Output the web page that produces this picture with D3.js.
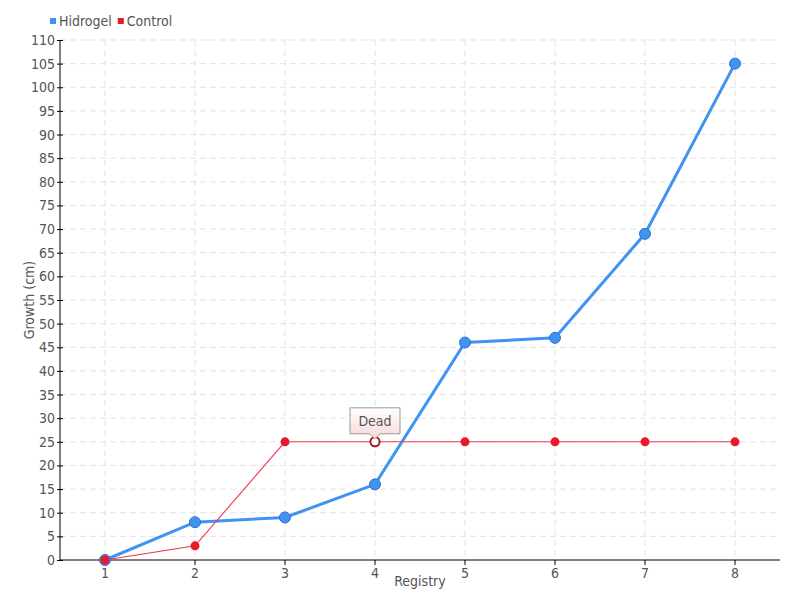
<!DOCTYPE html>
<html><head><meta charset="utf-8">
<script src="https://cdn.jsdelivr.net/npm/d3@7"></script>
<style>
body{margin:0;background:#fff;}
text{font-family:"DejaVu Sans Condensed","Liberation Sans Narrow",sans-serif;fill:#555;}
</style></head>
<body>
<svg id="chart" width="800" height="600"></svg>
<script>
const categories = ["1","2","3","4","5","6","7","8"];
const hidrogel = [0, 8, 9, 16, 46, 47, 69, 105];
const control = [0, 3, 25, 25, 25, 25, 25, 25];
const yTicks = d3.range(0, 111, 5);
const seriesNames = ["Hidrogel", "Control"];
const annotation = {index: 3, text: "Dead"};

const svg = d3.select("#chart");
const m = {l:60, r:20, t:40, b:40};
const W = 800, H = 600;
const x = d3.scaleBand().domain(categories).range([m.l, W - m.r]);
const cx = d => x(d) + x.bandwidth()/2;
const y = d3.scaleLinear().domain([0, 110]).range([H - m.b, m.t]);

// grid
const g = svg.append("g");
g.selectAll("line.h").data(yTicks.filter(v=>v>0)).join("line")
 .attr("x1", m.l).attr("x2", W - m.r).attr("y1", d=>y(d)).attr("y2", d=>y(d))
 .attr("stroke", "#e3e3e3").attr("stroke-dasharray", "6,4");
g.selectAll("line.v").data(categories).join("line")
 .attr("x1", d=>cx(d)).attr("x2", d=>cx(d)).attr("y1", m.t).attr("y2", H - m.b)
 .attr("stroke", "#e3e3e3").attr("stroke-dasharray", "6,4");

// axes
const yAx = svg.append("g").attr("transform", `translate(${m.l},0)`)
 .call(d3.axisLeft(y).tickValues(yTicks).tickSize(3).tickPadding(4));
yAx.selectAll(".tick line").attr("x2", 3).attr("x1", -3).attr("stroke", "#000");
yAx.select(".domain").attr("d", `M0,${m.t}V${H-m.b}`).attr("stroke", "#000");
yAx.selectAll("text").attr("font-size", 14).attr("x", -5);

const xAx = svg.append("g").attr("transform", `translate(0,${H - m.b})`)
 .call(d3.axisBottom(x).tickSize(5).tickPadding(3));
xAx.select(".domain").attr("d", `M${m.l},0H${W-m.r}`).attr("stroke", "#000");
xAx.selectAll(".tick line").attr("stroke", "#000");
xAx.selectAll("text").attr("font-size", 14);
svg.selectAll(".tick text").style("font-family", "'DejaVu Sans Condensed','Liberation Sans Narrow',sans-serif").attr("fill", "#555");

// axis titles
svg.append("text").attr("x", (m.l + W - m.r)/2).attr("y", 586).attr("text-anchor", "middle")
 .attr("font-size", 14).text("Registry");
svg.append("text").attr("transform", `translate(34,${(m.t + H - m.b)/2}) rotate(-90)`)
 .attr("text-anchor", "middle").attr("font-size", 14).text("Growth (cm)");

// lines
const line = d3.line().x((d,i)=>cx(categories[i])).y(d=>y(d));
svg.append("path").datum(hidrogel).attr("d", line).attr("fill", "none")
 .attr("stroke", "#4193f2").attr("stroke-width", 3);
svg.append("path").datum(control).attr("d", line).attr("fill", "none")
 .attr("stroke", "#f0384a").attr("stroke-width", 1.1);

// points
svg.append("g").selectAll("circle").data(hidrogel).join("circle")
 .attr("cx", (d,i)=>cx(categories[i])).attr("cy", d=>y(d)).attr("r", 5.5)
 .attr("fill", "#4193f2").attr("stroke", "#2a6fcc").attr("stroke-width", 1);
svg.append("g").selectAll("circle").data(control).join("circle")
 .attr("cx", (d,i)=>cx(categories[i])).attr("cy", d=>y(d)).attr("r", 4.5)
 .attr("fill", (d,i)=> i===annotation.index ? "#fff" : "#e8192c")
 .attr("stroke", (d,i)=> i===annotation.index ? "#000" : "#e8192c")
 .attr("stroke-width", (d,i)=> i===annotation.index ? 1.5 : 0);
const ax = cx(categories[annotation.index]), ay = y(control[annotation.index]);
svg.append("circle").attr("cx", ax).attr("cy", ay).attr("r", 5).attr("fill", "none")
 .attr("stroke", "#e8192c").attr("stroke-width", 1.2);

// tooltip
const defs = svg.append("defs");
const grad = defs.append("linearGradient").attr("id", "tip").attr("x1", 0).attr("y1", 0).attr("x2", 0).attr("y2", 1);
grad.append("stop").attr("offset", "0%").attr("stop-color", "#fff");
grad.append("stop").attr("offset", "100%").attr("stop-color", "#fbd6d6");
const bw = 50, bh = 26, by = ay - 34;
svg.append("path")
 .attr("d", `M${ax-bw/2},${by} H${ax+bw/2} V${by+bh} H${ax+5} L${ax},${by+bh+5} L${ax-5},${by+bh} H${ax-bw/2} Z`)
 .attr("fill", "url(#tip)").attr("stroke", "#999").attr("stroke-width", 1);
svg.append("text").attr("x", ax).attr("y", by + 18).attr("text-anchor", "middle")
 .attr("font-size", 14).attr("fill", "#555").text(annotation.text);

// legend
const legColors = ["#4193f2", "#e8192c"];
let lx = 50;
seriesNames.forEach((n,i)=>{
  svg.append("rect").attr("x", lx).attr("y", 18).attr("width", 6).attr("height", 6).attr("fill", legColors[i]);
  const t = svg.append("text").attr("x", lx + 9).attr("y", 26).attr("font-size", 14).text(n);
  lx += 9 + t.node().getComputedTextLength() + 6;
});
</script>
</body></html>
